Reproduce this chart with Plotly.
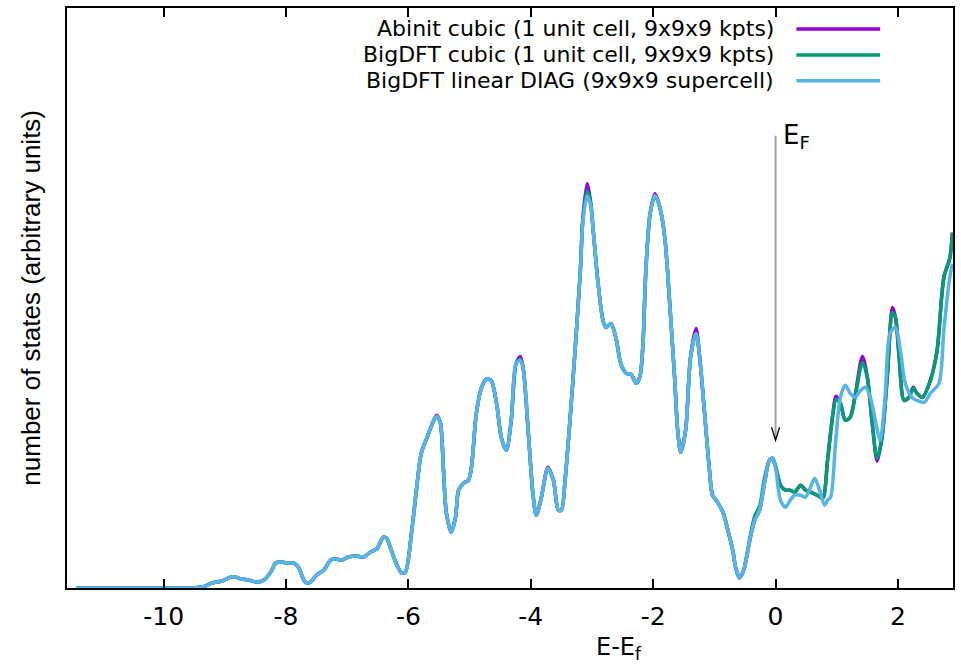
import plotly.graph_objects as go

# ---- data (energy in eV relative to E_F, DOS in arbitrary units) ----
energy_abinit = [-11.43, -10.24, -9.58, -9.37, -9.21, -9.05, -8.90, -8.82, -8.74, -8.61,
                 -8.48, -8.36, -8.25, -8.17, -8.08, -7.99, -7.87, -7.79, -7.71, -7.66,
                 -7.60, -7.50, -7.38, -7.27, -7.19, -7.09, -6.98, -6.86, -6.73, -6.62,
                 -6.52, -6.41, -6.36, -6.28, -6.19, -6.11, -6.05, -5.95, -5.87, -5.79,
                 -5.70, -5.62, -5.54, -5.48, -5.43, -5.38, -5.30, -5.23, -5.18, -5.10,
                 -5.02, -4.97, -4.89, -4.81, -4.73, -4.65, -4.56, -4.48, -4.40, -4.32,
                 -4.24, -4.17, -4.12, -4.04, -3.96, -3.91, -3.83, -3.72, -3.63, -3.55,
                 -3.50, -3.44, -3.36, -3.28, -3.19, -3.15, -3.08, -3.02, -2.98, -2.90,
                 -2.82, -2.77, -2.69, -2.61, -2.53, -2.44, -2.36, -2.28, -2.22, -2.17,
                 -2.12, -2.05, -1.97, -1.89, -1.81, -1.73, -1.65, -1.60, -1.55, -1.47,
                 -1.39, -1.30, -1.24, -1.16, -1.08, -1.03, -0.95, -0.86, -0.78, -0.70,
                 -0.65, -0.59, -0.52, -0.42, -0.34, -0.26, -0.18, -0.10, -0.05, 0.00,
                 0.08, 0.16, 0.24, 0.31, 0.41, 0.49, 0.57, 0.68, 0.77, 0.85,
                 0.93, 0.99, 1.06, 1.14, 1.22, 1.30, 1.42, 1.50, 1.58, 1.66,
                 1.74, 1.83, 1.91, 1.96, 2.02, 2.10, 2.18, 2.25, 2.31, 2.40,
                 2.53, 2.64, 2.75, 2.85, 2.89]
dos_abinit = [0, 0, 0, 1, 5, 7, 11, 11, 9, 8,
              6, 8, 16, 25, 26, 25, 25, 20, 8, 5,
              6, 13, 18, 28, 29, 28, 31, 32, 31, 36,
              39, 51, 50, 38, 23, 15, 16, 55, 98, 135,
              150, 163, 173, 166, 121, 75, 56, 71, 98, 105,
              108, 121, 175, 200, 209, 208, 185, 150, 138, 168,
              225, 232, 218, 155, 91, 73, 90, 121, 108, 78,
              78, 108, 168, 235, 318, 370, 405, 385, 358, 305,
              268, 261, 265, 251, 225, 215, 214, 205, 211, 241,
              318, 375, 395, 381, 351, 285, 211, 158, 136, 158,
              231, 260, 231, 175, 118, 93, 86, 76, 58, 38,
              20, 10, 18, 48, 68, 78, 105, 128, 130, 122,
              103, 98, 98, 96, 103, 98, 96, 93, 90, 128,
              171, 192, 185, 168, 171, 193, 232, 211, 165, 127,
              151, 215, 281, 271, 231, 188, 191, 201, 195, 191,
              208, 238, 311, 331, 356]

energy_bigdft_cubic = energy_abinit
dos_bigdft_cubic = [0, 0, 0, 1, 5, 7, 11, 11, 9, 8,
                    6, 8, 16, 25, 26, 25, 25, 20, 8, 5,
                    6, 13, 18, 28, 29, 28, 31, 32, 31, 36,
                    39, 51, 50, 38, 23, 15, 16, 55, 98, 135,
                    150, 163, 172, 166, 121, 75, 56, 71, 98, 105,
                    108, 121, 175, 200, 209, 208, 185, 150, 138, 168,
                    225, 229, 218, 155, 91, 73, 90, 120, 108, 78,
                    78, 108, 168, 235, 318, 368, 398, 385, 358, 305,
                    268, 261, 265, 251, 225, 215, 214, 205, 211, 241,
                    318, 375, 393, 381, 351, 285, 211, 158, 136, 158,
                    231, 255, 231, 175, 118, 93, 86, 76, 58, 38,
                    20, 10, 18, 50, 72, 82, 110, 128, 130, 122,
                    103, 98, 98, 96, 103, 98, 96, 93, 90, 128,
                    171, 189, 185, 168, 171, 191, 226, 211, 165, 130,
                    151, 215, 276, 271, 231, 188, 191, 200, 195, 191,
                    208, 238, 311, 331, 356]

energy_bigdft_linear = [-11.43, -10.24, -9.58, -9.37, -9.21, -9.05, -8.90, -8.82, -8.74, -8.61,
                        -8.48, -8.36, -8.25, -8.17, -8.08, -7.99, -7.87, -7.79, -7.71, -7.66,
                        -7.60, -7.50, -7.38, -7.27, -7.19, -7.09, -6.98, -6.86, -6.73, -6.62,
                        -6.52, -6.41, -6.36, -6.28, -6.19, -6.11, -6.05, -5.95, -5.87, -5.79,
                        -5.70, -5.62, -5.54, -5.48, -5.43, -5.38, -5.30, -5.23, -5.18, -5.10,
                        -5.02, -4.97, -4.89, -4.81, -4.73, -4.65, -4.56, -4.48, -4.40, -4.32,
                        -4.24, -4.17, -4.12, -4.04, -3.96, -3.91, -3.83, -3.72, -3.63, -3.55,
                        -3.50, -3.44, -3.36, -3.28, -3.19, -3.15, -3.08, -3.02, -2.98, -2.90,
                        -2.82, -2.77, -2.69, -2.61, -2.53, -2.44, -2.36, -2.28, -2.22, -2.17,
                        -2.12, -2.05, -1.97, -1.89, -1.81, -1.73, -1.65, -1.60, -1.55, -1.47,
                        -1.39, -1.30, -1.24, -1.16, -1.08, -1.03, -0.95, -0.86, -0.78, -0.70,
                        -0.65, -0.59, -0.52, -0.42, -0.34, -0.26, -0.18, -0.10, -0.05, 0.00,
                        0.08, 0.16, 0.24, 0.31, 0.41, 0.49, 0.57, 0.64, 0.72, 0.80,
                        0.85, 0.90, 0.98, 1.06, 1.14, 1.22, 1.30, 1.39, 1.47, 1.55,
                        1.63, 1.71, 1.79, 1.87, 1.96, 2.04, 2.12, 2.23, 2.31, 2.43,
                        2.53, 2.67, 2.75, 2.84, 2.89]
dos_bigdft_linear = [0, 0, 0, 1, 5, 7, 11, 11, 9, 8,
                     6, 8, 16, 25, 26, 25, 25, 20, 8, 5,
                     6, 13, 18, 28, 29, 28, 31, 32, 31, 36,
                     39, 51, 50, 38, 23, 15, 16, 55, 98, 135,
                     150, 163, 172, 166, 121, 75, 56, 71, 98, 105,
                     108, 121, 175, 200, 209, 208, 185, 150, 138, 168,
                     225, 228, 218, 155, 91, 73, 90, 120, 108, 78,
                     78, 108, 168, 235, 318, 366, 393, 383, 358, 305,
                     268, 261, 265, 251, 225, 215, 214, 205, 211, 241,
                     318, 375, 393, 381, 351, 285, 211, 158, 136, 158,
                     231, 255, 231, 175, 118, 93, 86, 76, 58, 38,
                     20, 10, 18, 48, 68, 78, 105, 128, 130, 120,
                     88, 81, 88, 93, 93, 91, 101, 110, 98, 83,
                     88, 91, 145, 191, 203, 195, 191, 198, 201, 191,
                     168, 148, 191, 255, 261, 238, 205, 191, 188, 186,
                     195, 205, 258, 308, 325]

series_names = ["Abinit cubic (1 unit cell, 9x9x9 kpts)",
                "BigDFT cubic (1 unit cell, 9x9x9 kpts)",
                "BigDFT linear DIAG (9x9x9 supercell)"]
series_colors = ["#9400D3", "#009E73", "#56B4E9"]
x_ticks = [-10, -8, -6, -4, -2, 0, 2]
x_range = [-11.58, 2.90]
y_range = [0, 581]
fermi_arrow = {"top": 453, "tip": 148}

FONT = "DejaVu Sans, Liberation Sans, sans-serif"
FONT_NARROW = "Liberation Sans, Arial, sans-serif"

fig = go.Figure()
for en, dos, name, col in zip([energy_abinit, energy_bigdft_cubic, energy_bigdft_linear],
                              [dos_abinit, dos_bigdft_cubic, dos_bigdft_linear],
                              series_names, series_colors):
    fig.add_trace(go.Scatter(x=en, y=dos, mode="lines", name=name,
                             line=dict(color=col, width=3.5, shape="spline", smoothing=0.8),
                             showlegend=False))

# gnuplot-style key: text right-aligned, line sample on the right
key_y = [0.9639, 0.9191, 0.8744]
for name, col, ky in zip(series_names, series_colors, key_y):
    fig.add_annotation(xref="paper", yref="paper", x=0.8007, y=ky, text=name,
                       showarrow=False, xanchor="right", yanchor="middle",
                       font=dict(family=FONT, size=22, color="black"))
    fig.add_shape(type="line", xref="paper", yref="paper", x0=0.8232, x1=0.9178,
                  y0=ky, y1=ky, line=dict(color=col, width=3.5))

# Fermi level arrow
fig.add_shape(type="line", x0=0, x1=0, y0=fermi_arrow["tip"] + 2, y1=fermi_arrow["top"],
              line=dict(color="#a0a0a0", width=2))
fig.add_shape(type="path", xref="x", yref="y", xsizemode="pixel", ysizemode="pixel",
              xanchor=0, yanchor=fermi_arrow["tip"],
              path="M -4 13 L 0 0 L 4 13", line=dict(color="black", width=1.3))
fig.add_annotation(x=0.09, y=fermi_arrow["top"], text="E<sub>F</sub>", showarrow=False,
                   xanchor="left", yanchor="middle", yshift=-1,
                   font=dict(family=FONT, size=26, color="black"))

# axis titles
fig.add_annotation(xref="paper", yref="paper", x=0.623, y=-0.105, text="E-E<sub>f</sub>",
                   showarrow=False, xanchor="center", yanchor="middle",
                   font=dict(family=FONT, size=24, color="black"))
fig.add_annotation(xref="paper", yref="paper", x=-0.041, y=0.5,
                   text="number of states (arbitrary units)", textangle=-90,
                   showarrow=False, xanchor="center", yanchor="middle",
                   font=dict(family=FONT_NARROW, size=26, color="black"))

fig.update_xaxes(range=x_range, tickvals=x_ticks, ticktext=[str(t) for t in x_ticks],
                 ticks="inside", ticklen=9, tickwidth=1.5, tickcolor="black",
                 showline=True, linecolor="black", linewidth=1.5, mirror="ticks",
                 showgrid=False, zeroline=False, ticklabelstandoff=5,
                 tickfont=dict(family=FONT, size=25, color="black"))
fig.update_yaxes(range=y_range, showticklabels=False, ticks="",
                 showline=True, linecolor="black", linewidth=1.5, mirror=True,
                 showgrid=False, zeroline=False)
fig.update_layout(width=961, height=667, margin=dict(l=67, r=6, t=7, b=79),
                  plot_bgcolor="white", paper_bgcolor="white",
                  font=dict(family=FONT))
fig.write_html("out.html", config={"displayModeBar": False},
               post_script="document.body.style.margin='0px';")
